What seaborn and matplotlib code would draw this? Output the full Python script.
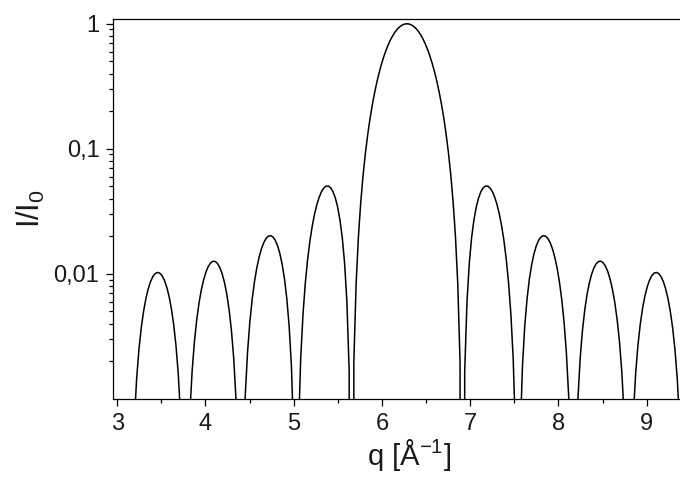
import matplotlib
matplotlib.use('Agg')
import matplotlib.pyplot as plt
import seaborn as sns
from matplotlib.ticker import FixedLocator, FixedFormatter, NullFormatter

# intensity profile, q in 1/Angstrom, I/I0
# left half: from q = 3.14 up to the main peak
q_left = [
    3.1416, 3.1678, 3.1940, 3.2201, 3.2463, 3.2725, 3.2987, 3.3249, 3.3510, 3.3772,
    3.4034, 3.4296, 3.4558, 3.4819, 3.5081, 3.5343, 3.5605, 3.5867, 3.6128, 3.6390,
    3.6652, 3.6914, 3.7176, 3.7437, 3.7699, 3.7961, 3.8223, 3.8485, 3.8746, 3.9008,
    3.9270, 3.9532, 3.9794, 4.0055, 4.0317, 4.0579, 4.0841, 4.1103, 4.1364, 4.1626,
    4.1888, 4.2150, 4.2412, 4.2673, 4.2935, 4.3197, 4.3459, 4.3721, 4.3982, 4.4244,
    4.4506, 4.4768, 4.5030, 4.5291, 4.5553, 4.5815, 4.6077, 4.6339, 4.6600, 4.6862,
    4.7124, 4.7386, 4.7648, 4.7909, 4.8171, 4.8433, 4.8695, 4.8957, 4.9218, 4.9480,
    4.9742, 5.0004, 5.0265, 5.0527, 5.0789, 5.1051, 5.1313, 5.1575, 5.1836, 5.2098,
    5.2360, 5.2622, 5.2884, 5.3145, 5.3407, 5.3669, 5.3931, 5.4193, 5.4454, 5.4716,
    5.4978, 5.5240, 5.5502, 5.5763, 5.6025, 5.6287, 5.6549, 5.6811, 5.7072, 5.7334,
    5.7596, 5.7858, 5.8120, 5.8381, 5.8643, 5.8905, 5.9167, 5.9429, 5.9690, 5.9952,
    6.0214, 6.0476, 6.0738, 6.0999, 6.1261, 6.1523, 6.1785, 6.2047, 6.2308, 6.2570,
    6.2832,
]
i_left = [
    0, 0.0001704, 0.0006703, 0.001467, 0.002507, 0.003722, 0.005031, 0.006347, 0.007583, 0.008655,
    0.009492, 0.01004, 0.01025, 0.01012, 0.009651, 0.008873, 0.007839, 0.006616, 0.005288, 0.003945,
    0.002680, 0.001581, 0.0007287, 0.0001868, 0, 0.0001900, 0.0007539, 0.001664, 0.002868, 0.004296,
    0.005858, 0.007456, 0.008987, 0.01035, 0.01145, 0.01222, 0.01260, 0.01255, 0.01208, 0.01121,
    0.01000, 0.008522, 0.006878, 0.005181, 0.003554, 0.002118, 0.0009863, 0.0002555, 0, 0.0002654,
    0.001064, 0.002375, 0.004139, 0.006269, 0.008647, 0.01114, 0.01358, 0.01583, 0.01773, 0.01916,
    0.02000, 0.02019, 0.01969, 0.01853, 0.01675, 0.01448, 0.01186, 0.009063, 0.006313, 0.003821,
    0.001808, 0.0004759, 0, 0.0005115, 0.002088, 0.004745, 0.008428, 0.01302, 0.01832, 0.02408,
    0.03000, 0.03575, 0.04098, 0.04534, 0.04852, 0.05025, 0.05034, 0.04870, 0.04534, 0.04039,
    0.03414, 0.02699, 0.01947, 0.01222, 0.006012, 0.001649, 0, 0.001937, 0.008305, 0.01988,
    0.03732, 0.06116, 0.09175, 0.1292, 0.1735, 0.2243, 0.2809, 0.3427, 0.4086, 0.4774,
    0.5476, 0.6179, 0.6864, 0.7518, 0.8122, 0.8664, 0.9127, 0.9501, 0.9776, 0.9944,
    1.0,
]
# right half: from the main peak to q = 9.42
q_right = [
    6.3094, 6.3356, 6.3617, 6.3879, 6.4141, 6.4403, 6.4665, 6.4926, 6.5188, 6.5450,
    6.5712, 6.5974, 6.6235, 6.6497, 6.6759, 6.7021, 6.7283, 6.7544, 6.7806, 6.8068,
    6.8330, 6.8592, 6.8853, 6.9115, 6.9377, 6.9639, 6.9901, 7.0162, 7.0424, 7.0686,
    7.0948, 7.1210, 7.1471, 7.1733, 7.1995, 7.2257, 7.2519, 7.2780, 7.3042, 7.3304,
    7.3566, 7.3828, 7.4089, 7.4351, 7.4613, 7.4875, 7.5137, 7.5398, 7.5660, 7.5922,
    7.6184, 7.6446, 7.6707, 7.6969, 7.7231, 7.7493, 7.7755, 7.8016, 7.8278, 7.8540,
    7.8802, 7.9064, 7.9325, 7.9587, 7.9849, 8.0111, 8.0373, 8.0634, 8.0896, 8.1158,
    8.1420, 8.1682, 8.1943, 8.2205, 8.2467, 8.2729, 8.2991, 8.3252, 8.3514, 8.3776,
    8.4038, 8.4300, 8.4561, 8.4823, 8.5085, 8.5347, 8.5609, 8.5870, 8.6132, 8.6394,
    8.6656, 8.6918, 8.7179, 8.7441, 8.7703, 8.7965, 8.8227, 8.8488, 8.8750, 8.9012,
    8.9274, 8.9536, 8.9797, 9.0059, 9.0321, 9.0583, 9.0845, 9.1106, 9.1368, 9.1630,
    9.1892, 9.2154, 9.2415, 9.2677, 9.2939, 9.3201, 9.3463, 9.3724, 9.3986, 9.4248,
]
i_right = [
    0.9944, 0.9776, 0.9501, 0.9127, 0.8664, 0.8122, 0.7518, 0.6864, 0.6179, 0.5476,
    0.4774, 0.4086, 0.3427, 0.2809, 0.2243, 0.1735, 0.1292, 0.09175, 0.06116, 0.03732,
    0.01988, 0.008305, 0.001937, 0, 0.001649, 0.006012, 0.01222, 0.01947, 0.02699, 0.03414,
    0.04039, 0.04534, 0.04870, 0.05034, 0.05025, 0.04852, 0.04534, 0.04098, 0.03575, 0.03000,
    0.02408, 0.01832, 0.01302, 0.008428, 0.004745, 0.002088, 0.0005115, 0, 0.0004759, 0.001808,
    0.003821, 0.006313, 0.009063, 0.01186, 0.01448, 0.01675, 0.01853, 0.01969, 0.02019, 0.02000,
    0.01916, 0.01773, 0.01583, 0.01358, 0.01114, 0.008647, 0.006269, 0.004139, 0.002375, 0.001064,
    0.0002654, 0, 0.0002555, 0.0009863, 0.002118, 0.003554, 0.005181, 0.006878, 0.008522, 0.01000,
    0.01121, 0.01208, 0.01255, 0.01260, 0.01222, 0.01145, 0.01035, 0.008987, 0.007456, 0.005858,
    0.004296, 0.002868, 0.001664, 0.0007539, 0.0001900, 0, 0.0001868, 0.0007287, 0.001581, 0.002680,
    0.003945, 0.005288, 0.006616, 0.007839, 0.008873, 0.009651, 0.01012, 0.01025, 0.01004, 0.009492,
    0.008655, 0.007583, 0.006347, 0.005031, 0.003722, 0.002507, 0.001467, 0.0006703, 0.0001704, 0,
]

x_ticks = [3, 4, 5, 6, 7, 8, 9]
x_minor = [3.5, 4.5, 5.5, 6.5, 7.5, 8.5, 9.5]
y_ticks = [0.01, 0.1, 1]
y_tick_labels = ['0,01', '0,1', '1']
y_minor = [m * 10.0 ** e for e in (-3, -2, -1) for m in range(2, 10)]

q = q_left + q_right
intensity = i_left + i_right

sns.set_theme(style='ticks')
plt.rcParams['font.family'] = ['Liberation Sans', 'DejaVu Sans']
plt.rcParams['mathtext.fontset'] = 'custom'
plt.rcParams['mathtext.rm'] = 'Liberation Sans'
plt.rcParams['mathtext.it'] = 'Liberation Sans:italic'

fig = plt.figure(figsize=(6.8, 4.78), dpi=100)
# the plot frame runs past the right edge of the picture
ax = fig.add_axes([0.1666, 0.1657, 0.870, 0.7954])

sns.lineplot(x=q, y=intensity, ax=ax, color='black', linewidth=1.1,
             estimator=None, sort=False)
ax.set_yscale('log')
ax.set_xlim(2.955, 9.66)
ax.set_ylim(0.001, 1.1)

ax.xaxis.set_major_locator(FixedLocator(x_ticks))
ax.xaxis.set_minor_locator(FixedLocator(x_minor))
ax.yaxis.set_major_locator(FixedLocator(y_ticks))
ax.yaxis.set_major_formatter(FixedFormatter(y_tick_labels))
ax.yaxis.set_minor_locator(FixedLocator(y_minor))
ax.yaxis.set_minor_formatter(NullFormatter())

ax.tick_params(which='major', direction='out', length=5, width=0.9,
               color='black', labelsize=17, labelcolor='#1a1a1a', pad=5)
ax.tick_params(which='minor', direction='out', length=3, width=0.9, color='black')

for s in ax.spines.values():
    s.set_color('black')
    s.set_linewidth(0.9)

ax.set_xlabel('q [Å$^{\\mathregular{-1}}$]', fontsize=21, color='#1a1a1a', labelpad=2)
ax.set_ylabel('I/I$_{\\mathregular{0}}$', fontsize=22, color='#1a1a1a', va='center')
ax.yaxis.set_label_coords(-0.139, 0.5)

fig.savefig('out.png', dpi=100)
